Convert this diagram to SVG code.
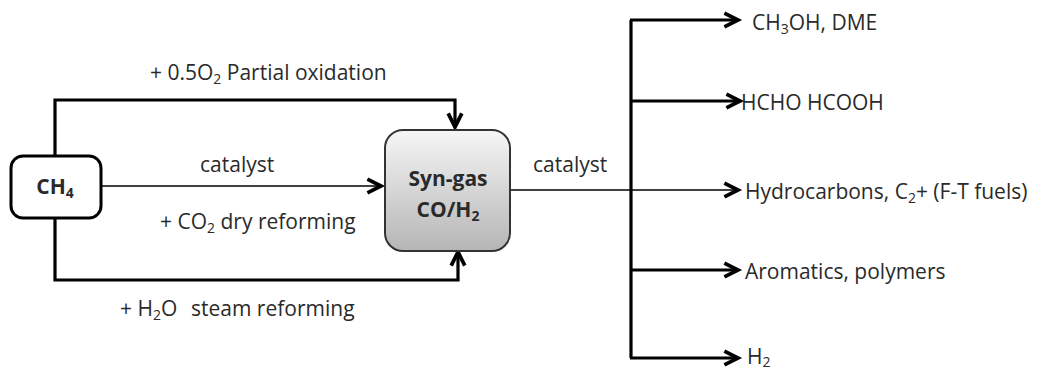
<svg xmlns="http://www.w3.org/2000/svg" width="1041" height="370" viewBox="0 0 1041 370">
<style>
text{font-family:"Open Sans","Liberation Sans",sans-serif;fill:#2a2a2a;font-size:21px}
.b{font-weight:bold}
.s{font-size:14px}
.thick{fill:none;stroke:#000;stroke-width:3.2}
.thin{fill:none;stroke:#000;stroke-width:1.6}
</style>
<defs>
<linearGradient id="g" x1="0" y1="0" x2="0" y2="1">
<stop offset="0" stop-color="#f6f6f6"/>
<stop offset="1" stop-color="#b5b5b5"/>
</linearGradient>
<marker id="at" viewBox="0 0 10 10" refX="9" refY="5" markerWidth="17" markerHeight="17" markerUnits="userSpaceOnUse" orient="auto" overflow="visible">
<path d="M1,1 L9,5 L1,9" fill="none" stroke="#000" stroke-width="2.2"/>
</marker>
</defs>
<g id="connectors">
<path class="thick" d="M55,155 V100 H455 V127" marker-end="url(#at)"/>
<path class="thick" d="M55,218 V280 H458 V252" marker-end="url(#at)"/>
<path class="thin" d="M101,186 H381" marker-end="url(#at)"/>
<path class="thin" d="M510,190 H738" marker-end="url(#at)"/>
<path class="thick" d="M631,20 V358"/>
<path class="thick" d="M630,20 H738" marker-end="url(#at)"/>
<path class="thick" d="M630,101 H740" marker-end="url(#at)"/>
<path class="thick" d="M630,270 H738" marker-end="url(#at)"/>
<path class="thick" d="M630,358 H738" marker-end="url(#at)"/>
</g>
<g id="ch4">
<rect x="11" y="156" width="90" height="62" rx="12" fill="#fff" stroke="#000" stroke-width="3"/>
<text class="b" x="55" y="194" text-anchor="middle" font-size="18">CH<tspan class="s" dy="4">4</tspan></text>
</g>
<g id="syngas">
<rect x="385" y="130" width="125" height="121" rx="18" fill="url(#g)" stroke="#333" stroke-width="2"/>
<text class="b" x="448" y="186" text-anchor="middle">Syn-gas</text>
<text class="b" x="448" y="217" text-anchor="middle">CO/H<tspan class="s" dy="4">2</tspan></text>
</g>
<g id="labels">
<text x="150" y="80">+ 0.5O<tspan class="s" dy="4">2</tspan><tspan dy="-4"> Partial oxidation</tspan></text>
<text x="200" y="172">catalyst</text>
<text x="160" y="229">+ CO<tspan class="s" dy="4">2</tspan><tspan dy="-4"> dry reforming</tspan></text>
<text x="120" y="316">+ H<tspan class="s" dy="4">2</tspan><tspan dy="-4">O</tspan><tspan x="191">steam reforming</tspan></text>
<text x="533" y="172">catalyst</text>
</g>
<g id="products">
<text x="752" y="30">CH<tspan class="s" dy="4">3</tspan><tspan dy="-4">OH, DME</tspan></text>
<text x="741" y="110">HCHO HCOOH</text>
<text x="745" y="199">Hydrocarbons, C<tspan class="s" dy="4">2</tspan><tspan dy="-4">+ (F-T fuels)</tspan></text>
<text x="745" y="279">Aromatics, polymers</text>
<text x="747" y="364">H<tspan class="s" dy="3">2</tspan></text>
</g>
</svg>
